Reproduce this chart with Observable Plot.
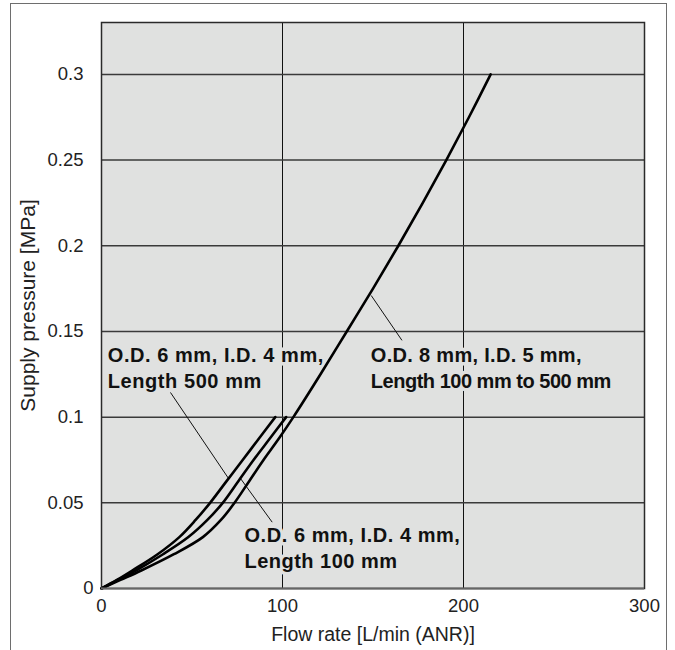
<!DOCTYPE html>
<html><head><meta charset="utf-8">
<script src="https://cdn.jsdelivr.net/npm/d3@7"></script>
<script src="https://cdn.jsdelivr.net/npm/@observablehq/plot@0.6"></script>
<style>
html,body{margin:0;padding:0;background:#fff;overflow:hidden;}
#wrap{position:relative;width:675px;height:650px;}
#border{position:absolute;left:10px;top:3px;width:657px;height:720px;border:1.5px solid #6e6e6e;box-sizing:border-box;}
#chart{position:absolute;left:0;top:0;}
</style></head><body>
<div id="wrap"><div id="border"></div><div id="chart"></div></div>
<script>
// ---- data ----
const xTicks = [0, 100, 200, 300];
const yTicks = [0.05, 0.1, 0.15, 0.2, 0.25, 0.3];
const xGrid = [100, 200];

// pressure levels [MPa]
const pressure6 = [0, 0.005, 0.0105, 0.02, 0.03, 0.04, 0.05, 0.0625, 0.075, 0.0875, 0.1];
const pressure8 = [0, 0.005, 0.0105, 0.02, 0.03, 0.04, 0.05, 0.0625, 0.075, 0.0875, 0.1,
                   0.125, 0.15, 0.175, 0.2, 0.225, 0.25, 0.275, 0.3];
// flow rates [L/min (ANR)]
const flow6_500 = [0, 8.5, 17, 31, 43, 52, 60, 69, 78, 87, 96];
const flow6_100 = [0, 9, 19, 34, 48, 58.5, 67, 75.5, 84, 93, 102];
const flow8 = [0, 10.5, 22, 40, 56, 66, 73.5, 81.5, 89.5, 98, 106,
               121, 135.5, 150, 164, 177.5, 190.5, 203, 215];

const labelTexts = [
  "O.D. 6 mm, I.D. 4 mm,\nLength 500 mm",
  "O.D. 8 mm, I.D. 5 mm,\nLength 100 mm to 500 mm",
  "O.D. 6 mm, I.D. 4 mm,\nLength 100 mm"
];
const labelX = [3.5, 148.8, 79];
const labelY = [0.1432, 0.1432, 0.0378];

// leader lines: label end -> curve point
const leaderX1 = [38.1, 166, 94.3];
const leaderY1 = [0.1144, 0.1448, 0.0387];
const leaderX2 = [70.2, 149, 76.8];
const leaderY2 = [0.0642, 0.171, 0.0642];

const xTitle = "Flow rate [L/min (ANR)]";
const yTitle = "Supply pressure [MPa]";

// ---- build tables ----
const rows = [];
flow6_500.forEach((f, i) => rows.push({series: "6-500", flow: f, pressure: pressure6[i]}));
flow6_100.forEach((f, i) => rows.push({series: "6-100", flow: f, pressure: pressure6[i]}));
flow8.forEach((f, i) => rows.push({series: "8", flow: f, pressure: pressure8[i]}));
const labels = labelTexts.map((t, i) => ({text: t, x: labelX[i], y: labelY[i]}));
const leaders = leaderX1.map((x1, i) => ({x1, y1: leaderY1[i], x2: leaderX2[i], y2: leaderY2[i]}));

const bg = "#e0e1e0";
const font = "'Liberation Sans', Arial, Helvetica, sans-serif";

const chart = Plot.plot({
  width: 675,
  height: 650,
  marginLeft: 101,
  marginRight: 31,
  marginTop: 22,
  marginBottom: 62,
  style: {fontFamily: font, background: "transparent", overflow: "visible"},
  x: {domain: [0, 300]},
  y: {domain: [0, 0.3303]},
  marks: [
    Plot.frame({fill: bg, stroke: "none"}),
    Plot.gridX(xGrid, {stroke: "#111", strokeOpacity: 1, strokeWidth: 1}),
    Plot.gridY(yTicks, {stroke: "#3a3a3a", strokeOpacity: 1, strokeWidth: 1.5}),
    Plot.text(labels, {
      x: "x", y: "y", text: "text", textAnchor: "start", lineAnchor: "top",
      lineHeight: 1.3, fontSize: 20, fontWeight: "bold", fill: "#111",
      stroke: bg, strokeWidth: 7, strokeLinejoin: "round", paintOrder: "stroke"
    }),
    Plot.link(leaders, {x1: "x1", y1: "y1", x2: "x2", y2: "y2", stroke: "#111", strokeWidth: 1}),
    Plot.line(rows, {x: "flow", y: "pressure", z: "series", stroke: "#000", strokeWidth: 2.6, curve: "catmull-rom"}),
    Plot.frame({stroke: "#2a2a2a", strokeWidth: 1.5}),
    Plot.ruleY([0], {stroke: "#666", strokeWidth: 2.2}),
    Plot.axisX(xTicks, {tickSize: 0, tickPadding: 10, fontSize: 18.5, fill: "#222", label: null}),
    Plot.axisY(yTicks, {tickSize: 0, tickPadding: 18, fontSize: 18.5, fill: "#222", label: null, tickFormat: d => String(d)}),
    Plot.axisY([0], {tickSize: 0, tickPadding: 8, fontSize: 18.5, fill: "#222", label: null, tickFormat: d => String(d)}),
    Plot.text([xTitle], {text: d => d, frameAnchor: "bottom", textAnchor: "middle", lineAnchor: "top", dy: 39, fontSize: 19.5, fill: "#222"}),
    Plot.text([yTitle], {text: d => d, frameAnchor: "left", textAnchor: "middle", rotate: -90, lineAnchor: "bottom", dx: -67, fontSize: 21, fill: "#222"})
  ]
});
document.getElementById("chart").appendChild(chart);

// widen the bold annotation lines to the reference's glyph widths (px)
const lineWidth = {
  "O.D. 6 mm, I.D. 4 mm,": 216,
  "Length 500 mm": 154,
  "O.D. 8 mm, I.D. 5 mm,": 211,
  "Length 100 mm to 500 mm": 240,
  "Length 100 mm": 153
};
d3.select(chart).selectAll("tspan").each(function () {
  const t = this.textContent;
  if (lineWidth[t] == null) return;
  const natural = this.getComputedTextLength();
  const extra = (lineWidth[t] - natural) / t.length;
  this.style.letterSpacing = extra + "px";
});
</script>
</body></html>
